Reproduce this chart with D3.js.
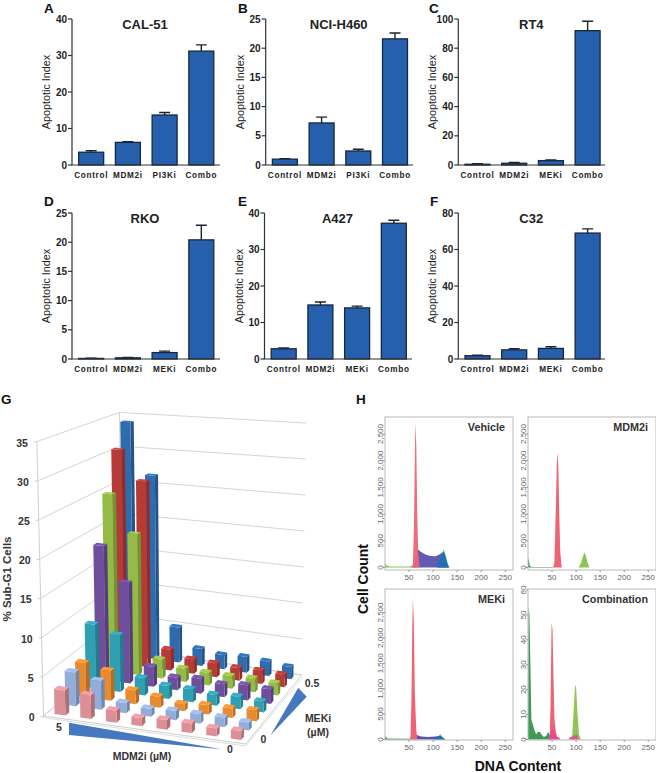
<!DOCTYPE html>
<html><head><meta charset="utf-8">
<script src="https://cdn.jsdelivr.net/npm/d3@7"></script>
<style>html,body{margin:0;padding:0;background:#fff}svg{display:block;font-family:"Liberation Sans",Arial,sans-serif}</style>
</head><body><svg id="c" width="656" height="773"></svg>
<script>
// ---------- bar panels A-F ----------
const panelNames = ["CAL-51","NCI-H460","RT4","RKO","A427","C32"];
const panelLetters = ["A","B","C","D","E","F"];
const catsPI3K = ["Control","MDM2i","PI3Ki","Combo"];
const catsMEK = ["Control","MDM2i","MEKi","Combo"];
const valsA=[3.5,6.2,13.7,31.2], errA=[3.9,6.4,14.4,32.9], ticksA=[0,10,20,30,40];
const valsB=[1.0,7.2,2.4,21.6], errB=[1.1,8.2,2.7,22.6], ticksB=[0,5,10,15,20,25];
const valsC=[0.5,1.2,3,92], errC=[0.9,1.7,3.4,98.5], ticksC=[0,20,40,60,80,100];
const valsD=[0.1,0.2,1.1,20.4], errD=[0.15,0.25,1.35,22.9], ticksD=[0,5,10,15,20,25];
const valsE=[2.8,14.8,14,37.2], errE=[3,15.6,14.5,38], ticksE=[0,10,20,30,40];
const valsF=[1.8,5,5.8,69], errF=[2.1,5.6,6.7,71.3], ticksF=[0,20,40,60,80];

// ---------- panel G: rows front (MEKi 0) to back (MEKi 0.5), columns MDM2i 5 to 0 ----------
const gTicks=[0,5,10,15,20,25,30,35];
const gPink  =[3.2,3.0,1.5,1.0,1.2,1.2,1.0,1.1];
const gLBlue =[4.4,3.7,1.3,1.0,1.2,1.2,1.2,1.0];
const gOrange=[4.5,3.9,1.8,1.4,0.9,1.2,1.2,1.4];
const gTeal  =[8.6,7.6,2.3,1.7,1.7,1.4,1.6,1.4];
const gPurple=[18.4,13.7,2.7,1.7,2.0,1.7,2.0,1.9];
const gGreen =[24.8,19.6,2.6,1.8,1.7,1.7,1.8,1.6];
const gRed   =[30.5,26.3,2.9,2.0,1.9,1.7,1.8,1.7];
const gBlue  =[34,26.5,5,2.4,2,2.2,2,1.7];
const gColors=["#dc8f96","#93add9","#e98a2e","#2f9fb2","#6f4e9e","#93bb45","#b63a36","#2f6cae"];

// ---------- panel H histograms: [DNA content, count] ----------
const h1Green=[[0,70],[3,40],[10,20],[50,20],[56,30],[60,0]];
const h1Red=[[54,0],[58,60],[60,700],[62,2000],[63,2720],[65,2300],[67,1000],[69,300],[72,0]];
const h1Lime=[[112,0],[117,200],[122,340],[126,240],[132,0]];
const h1Purple=[[58,0],[62,100],[66,250],[68,340],[75,290],[85,240],[95,215],[105,210],[112,240],[118,270],[122,250],[128,100],[132,0]];
const h1Blue=[[108,0],[113,130],[118,270],[122,300],[126,200],[130,70],[134,0]];
const h2Dark=[[0,180],[2,120],[4,30],[8,10],[50,10],[54,0]];
const h2Red=[[52,0],[55,100],[58,1200],[60,2000],[61,2150],[63,1900],[65,1000],[67,300],[70,0]];
const h2Lime=[[105,0],[110,80],[114,200],[117,280],[120,230],[124,90],[128,0]];
const h3Dark=[[0,70],[2,50],[5,20],[50,15],[53,0]];
const h3Red=[[50,0],[53,50],[55,800],[57,2400],[58,2780],[60,2300],[62,900],[65,200],[67,0]];
const h3Lime=[[105,0],[110,50],[115,110],[119,60],[124,0]];
const h3Purple=[[55,0],[60,60],[66,90],[75,60],[90,50],[105,60],[112,70],[118,50],[125,0]];
const h3Blue=[[100,0],[108,50],[114,80],[120,40],[126,0]];
const h4Dark=[[0,0],[1,53],[3,50],[5,30],[7,8],[10,6],[13,4],[17,2],[20,3],[25,3],[28,2],[33,1],[38,1.5],[42,3],[45,2],[48,0]];
const h4Red=[[42,0],[45,1],[47,15],[49,47],[51,44],[53,25],[55,8],[58,3],[62,0]];
const h4Lime=[[88,0],[92,2],[95,12],[98,22],[100,21],[103,10],[106,2],[110,0]];
const h4Mag=[[44,0],[47,2],[50,4.5],[53,3.5],[57,2],[60,1],[64,1],[68,0],[84,0],[87,1],[92,1],[96,1.5],[102,2],[105,0]];
const hTitles=["Vehicle","MDM2i","MEKi","Combination"];
const hXTicks=[50,100,150,200,250];
const hYTicks=[0,500,1000,1500,2000,2500];
const hYTicks4=[0,10,20,30,40,50,60];

const svg=d3.select("#c");
const ink="#222";

function barPanel(i,ax,top,base,end,cats,vals,errs,ticks,domMax,letX,letY){
  const g=svg.append("g");
  const y=d3.scaleLinear().domain([0,domMax]).range([base,top]);
  const x=d3.scaleBand().domain(cats).range([ax+6.7,ax+141.8]).paddingInner(0.32).paddingOuter(0);
  const cap=5.5;
  cats.forEach((c,k)=>{
    const cx=x(c)+x.bandwidth()/2;
    g.append("path").attr("d",`M${cx},${y(vals[k])}V${y(errs[k])}M${cx-cap},${y(errs[k])}H${cx+cap}`)
      .attr("stroke","#1b2530").attr("stroke-width",1.4).attr("fill","none");
    g.append("rect").attr("x",x(c)).attr("y",y(vals[k])).attr("width",x.bandwidth()).attr("height",base-y(vals[k]))
      .attr("fill","#2660ad").attr("stroke","#16273f").attr("stroke-width",1.3);
  });
  g.append("path").attr("d",`M${ax},${top}V${base}H${end}`).attr("fill","none").attr("stroke","#333").attr("stroke-width",1.2);
  ticks.forEach(t=>{
    g.append("line").attr("x1",ax-4).attr("x2",ax).attr("y1",y(t)).attr("y2",y(t)).attr("stroke","#333").attr("stroke-width",1.2);
    g.append("text").attr("x",ax-5).attr("y",y(t)+3.5).attr("text-anchor","end").attr("font-size",10).attr("font-weight","bold").attr("fill",ink).text(t);
  });
  cats.forEach(c=>{
    g.append("text").attr("x",x(c)+x.bandwidth()/2).attr("y",base+12.5).attr("text-anchor","middle").attr("font-size",8.2).attr("font-weight","bold")
      .attr("letter-spacing",0.7).attr("fill",ink).text(c);
  });
  g.append("text").attr("transform",`translate(${ax-22},${(top+base)/2}) rotate(-90)`).attr("text-anchor","middle").attr("font-size",10.8).attr("fill",ink).text("Apoptotic Index");
  g.append("text").attr("x",ax+73).attr("y",top+10).attr("text-anchor","middle").attr("font-size",13).attr("font-weight","bold").attr("fill",ink).text(panelNames[i]);
  letter(panelLetters[i],letX,letY);
}
function letter(t,x,y){svg.append("text").attr("x",x).attr("y",y).attr("font-size",13.5).attr("font-weight","bold").attr("fill","#111").text(t);}

barPanel(0,72,19,165,220,catsPI3K,valsA,errA,ticksA,40,44,12.5);
barPanel(1,265.7,19,165,413,catsPI3K,valsB,errB,ticksB,25,238,12.5);
barPanel(2,458.3,19,165,605,catsMEK,valsC,errC,ticksC,100,429,12.5);
barPanel(3,72,213,359,220,catsMEK,valsD,errD,ticksD,25,44,206);
barPanel(4,264.5,213,359,412,catsMEK,valsE,errE,ticksE,40,238,206);
barPanel(5,458.3,213,359,605,catsMEK,valsF,errF,ticksF,80,430,206);

// ---------- G: 3D bars ----------
(function(){
  const gRows=[gPink,gLBlue,gOrange,gTeal,gPurple,gGreen,gRed,gBlue];
  const FL=[43.5,716],FR=[245.7,744],BR=[301.7,675],BL=[123,648];
  const uFL=[-0.19,7.84],uBL=[-0.10,6.73],uBR=[0.14,7.2],uFR=[0.1,8.1];
  function hom(p){
    const [x0,y0]=FL,[x1,y1]=FR,[x2,y2]=BR,[x3,y3]=BL;
    const dx1=x1-x2,dx2=x3-x2,sx=x0-x1+x2-x3,dy1=y1-y2,dy2=y3-y2,sy=y0-y1+y2-y3;
    const d=dx1*dy2-dx2*dy1,g=(sx*dy2-dx2*sy)/d,h=(dx1*sy-sx*dy1)/d;
    const a=x1-x0+g*x1,b=x3-x0+h*x3,c=y1-y0+g*y1,e=y3-y0+h*y3;
    const w=g*p[0]+h*p[1]+1;
    return [(a*p[0]+b*p[1]+x0)/w,(c*p[0]+e*p[1]+y0)/w];
  }
  const mix=(A,B,C,D,u,v,k)=>(A[k]*(1-u)+B[k]*u)*(1-v)+(D[k]*(1-u)+C[k]*u)*v;
  function proj(u,v,h){
    const f=hom([u,v]);
    return [f[0]+h*mix(uFL,uFR,uBR,uBL,u,v,0), f[1]-h*mix(uFL,uFR,uBR,uBL,u,v,1)];
  }
  const g=svg.append("g");
  const P=a=>a.map(p=>p.join(",")).join(" ");
  const grid="#cfcfcf";
  g.append("polygon").attr("points",P([FL,FR,BR,BL])).attr("fill","#fff").attr("stroke",grid);
  g.append("polyline").attr("points",P([[FL[0]-1,FL[1]+1.5],[FR[0],FR[1]+2],[BR[0]+1,BR[1]+2]])).attr("fill","none").attr("stroke","#ddd");
  gTicks.forEach(t=>{
    g.append("polyline").attr("points",P([proj(0,0,t),proj(0,1,t),proj(1,1,t)])).attr("fill","none").attr("stroke",grid).attr("stroke-width",0.9);
    g.append("line").attr("x1",proj(0,0,t)[0]-3).attr("x2",proj(0,0,t)[0]).attr("y1",proj(0,0,t)[1]+0.5).attr("y2",proj(0,0,t)[1]).attr("stroke",grid);
    g.append("text").attr("x",proj(0,0,t)[0]-9).attr("y",proj(0,0,t)[1]+5).attr("text-anchor","end").attr("font-size",10.5).attr("font-weight","bold").attr("fill","#333").text(t);
  });
  g.append("polyline").attr("points",P([proj(0,0,0),proj(0,0,35)])).attr("fill","none").attr("stroke",grid);
  g.append("polyline").attr("points",P([proj(0,1,0),proj(0,1,35)])).attr("fill","none").attr("stroke",grid);
  const n=8,w=0.42,d=0.36;
  const sc=d3.scaleBand().domain(d3.range(n)).range([0,1]);
  for(let r=n-1;r>=0;r--){
    for(let c=0;c<n;c++){
      const h=gRows[r][c],col=d3.color(gColors[r]);
      const u0=sc(c)+(sc.bandwidth()*(1-w))/2,u1=u0+sc.bandwidth()*w;
      const v0=sc(r)+(sc.bandwidth()*(1-d))/2,v1=v0+sc.bandwidth()*d;
      g.append("polygon").attr("points",P([proj(u1,v0,0),proj(u1,v1,0),proj(u1,v1,h),proj(u1,v0,h)])).attr("fill",col.darker(0.7));
      g.append("polygon").attr("points",P([proj(u0,v0,0),proj(u1,v0,0),proj(u1,v0,h),proj(u0,v0,h)])).attr("fill",col);
      g.append("polygon").attr("points",P([proj(u0,v0,h),proj(u1,v0,h),proj(u1,v1,h),proj(u0,v1,h)])).attr("fill",col.brighter(0.3));
    }
  }
  g.append("polygon").attr("points",P([[69,722.7],[69,735],[221.7,749.3]])).attr("fill","#4678bf");
  g.append("polygon").attr("points",P([[270.7,735],[298.3,687.7],[306.7,696.7]])).attr("fill","#4678bf");
  const lab=(t,x,y,a="middle",s=10.5)=>g.append("text").attr("x",x).attr("y",y).attr("text-anchor",a).attr("font-size",s).attr("font-weight","bold").attr("fill","#333").text(t);
  lab("5",59,731);lab("0",230,753);lab("0",263.5,743);lab("0.5",312,687);
  lab("MEKi",318,722);lab("(µM)",318,736);lab("MDM2i (µM)",142,760);
  g.append("text").attr("transform","translate(11,579) rotate(-90)").attr("text-anchor","middle").attr("font-size",11.5).attr("font-weight","bold").attr("fill","#333").text("% Sub-G1 Cells");
  letter("G",1,404);
})();

// ---------- H: histograms ----------
const cRed="#ee6472",cLime="#8dc653",cDark="#3f9a58",cPur="#5b52ad",cBlu="#1f6fb6",cMag="#ea3f9c";
function hist(i,x0,y0,x1,y1,y0v,yTopPx,yTopV,yt,layers){
  const g=svg.append("g");
  const x=d3.scaleLinear().domain([0,266]).range([x0,x1]);
  const y=d3.scaleLinear().domain([0,yTopV]).range([y0v,yTopPx]);
  const area=d3.area().x(d=>x(d[0])).y0(y0v).y1(d=>y(d[1]));
  layers.forEach(l=>g.append("path").attr("d",area(l.data)).attr("fill",l.color).attr("fill-opacity",l.op||1));
  g.append("rect").attr("x",x0).attr("y",y0).attr("width",x1-x0).attr("height",y1-y0).attr("fill","none").attr("stroke","#b8b8b8").attr("stroke-width",1);
  hXTicks.forEach(t=>{
    g.append("line").attr("x1",x(t)).attr("x2",x(t)).attr("y1",y1).attr("y2",y1+2).attr("stroke","#999");
    g.append("text").attr("x",x(t)).attr("y",y1+10).attr("text-anchor","middle").attr("font-size",8).attr("fill","#666").text(t);
  });
  yt.forEach(t=>{
    g.append("line").attr("x1",x0-2).attr("x2",x0).attr("y1",y(t)).attr("y2",y(t)).attr("stroke","#999");
    g.append("text").attr("transform",`translate(${x0-2.5},${y(t)}) rotate(-90)`).attr("text-anchor","middle").attr("font-size",8).attr("fill","#666").text(d3.format(",")(t));
  });
  g.append("text").attr("x",x1-8).attr("y",y0+14).attr("text-anchor","end").attr("font-size",10.8).attr("font-weight","bold").attr("fill","#333").text(hTitles[i]);
}
hist(0,385,417,513,570,567.5,434,2500,hYTicks,[{data:h1Green,color:cLime},{data:h1Lime,color:cLime},{data:h1Purple,color:cPur,op:.95},{data:h1Blue,color:cBlu},{data:h1Red,color:cRed,op:.95}]);
hist(1,528,417,656,570,567.5,434,2500,hYTicks,[{data:h2Dark,color:cDark},{data:h2Lime,color:cLime},{data:h2Red,color:cRed}]);
hist(2,385,589,513,740,739.5,612.5,2500,hYTicks,[{data:h3Dark,color:cDark},{data:h3Lime,color:cLime},{data:h3Purple,color:cPur},{data:h3Blue,color:cBlu},{data:h3Red,color:cRed}]);
hist(3,528,589,656,740,739.5,590,60,hYTicks4,[{data:h4Dark,color:cDark},{data:h4Lime,color:cLime},{data:h4Red,color:cRed},{data:h4Mag,color:cMag,op:.85}]);
letter("H",356,404);
svg.append("text").attr("transform","translate(368,579) rotate(-90)").attr("text-anchor","middle").attr("font-size",14).attr("font-weight","bold").attr("fill","#111").text("Cell Count");
svg.append("text").attr("x",518).attr("y",771).attr("text-anchor","middle").attr("font-size",14).attr("font-weight","bold").attr("fill","#111").text("DNA Content");
</script></body></html>
